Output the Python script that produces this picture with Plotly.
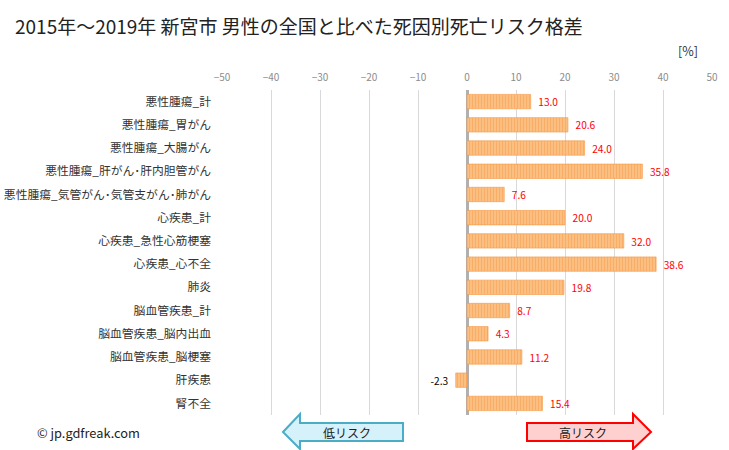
import plotly.graph_objects as go

categories = ["悪性腫瘍_計", "悪性腫瘍_胃がん", "悪性腫瘍_大腸がん", "悪性腫瘍_肝がん･肝内胆管がん",
              "悪性腫瘍_気管がん･気管支がん･肺がん", "心疾患_計", "心疾患_急性心筋梗塞", "心疾患_心不全",
              "肺炎", "脳血管疾患_計", "脳血管疾患_脳内出血", "脳血管疾患_脳梗塞", "肝疾患", "腎不全"]
values = [13.0, 20.6, 24.0, 35.8, 7.6, 20.0, 32.0, 38.6, 19.8, 8.7, 4.3, 11.2, -2.3, 15.4]
tick_vals = [-50, -40, -30, -20, -10, 0, 10, 20, 30, 40, 50]

FONT = "Noto Sans CJK JP, Meiryo, sans-serif"
text_colors = ["red" if v >= 0 else "black" for v in values]
NB = "\u00a0"
labels = [(NB * 2 + f"{v:.1f}") if v >= 0 else (f"{v:.1f}" + NB * 2) for v in values]

fig = go.Figure()
fig.add_trace(go.Bar(
    y=categories, x=values, orientation="h",
    width=0.62,
    marker=dict(color="#fcc28c",
                line=dict(color="#f7953f", width=0.6),
                pattern=dict(shape="|", fgcolor="#f7953f", bgcolor="#fdc58c", size=3, solidity=0.5)),
    text=labels,
    textposition="outside",
    textfont=dict(color=text_colors, size=12, family=FONT),
    cliponaxis=False,
    hoverinfo="skip",
))

L, R, T, B = 222, 712, 90, 415

fig.update_layout(
    width=729, height=450,
    margin=dict(l=L, r=729 - R, t=T, b=450 - B, autoexpand=False),
    paper_bgcolor="white", plot_bgcolor="white",
    showlegend=False,
    font=dict(family=FONT, color="#333333"),
    title=dict(text="2015年～2019年 新宮市 男性の全国と比べた死因別死亡リスク格差",
               x=15 / 729, xanchor="left", y=1 - 27 / 450, yanchor="middle",
               font=dict(size=19, color="#222222", family=FONT)),
    bargap=0.4,
)
fig.update_xaxes(range=[-50, 50], side="top", tickvals=tick_vals,
                 showgrid=True, gridcolor="#d9d9d9", gridwidth=1,
                 zeroline=True, zerolinecolor="#b0b0b0", zerolinewidth=3,
                 tickfont=dict(size=10, color="#8c8c8c"), showline=False, ticks="",
                 ticklabelstandoff=6, automargin=False)
fig.update_yaxes(autorange="reversed", tickfont=dict(size=11.8, color="#333333"),
                 showgrid=False, ticks="", ticklabelstandoff=10, automargin=False)

def ppx(x):
    return (x - L) / (R - L)
def ppy(y):
    return (B - y) / (B - T)
def path2(pts):
    return "M " + " L ".join(f"{ppx(a):.5f},{ppy(b):.5f}" for a, b in pts) + " Z"

left_arrow = [(283, 432), (300, 414), (300, 423), (403, 423), (403, 441), (300, 441), (300, 449)]
right_arrow = [(527, 423), (633, 423), (633, 414), (651, 432), (633, 449), (633, 441), (527, 441)]

fig.add_shape(type="path", xref="paper", yref="paper", path=path2(left_arrow),
              fillcolor="#d5f1fa", line=dict(color="#4bacc6", width=2))
fig.add_shape(type="path", xref="paper", yref="paper", path=path2(right_arrow),
              fillcolor="#ffd0d0", line=dict(color="#ff0000", width=2))

def note(x, y, text, size, xanchor="center", color="#222222"):
    fig.add_annotation(xref="paper", yref="paper", x=ppx(x), y=ppy(y), text=text,
                       showarrow=False, xanchor=xanchor, yanchor="middle",
                       font=dict(size=size, color=color, family=FONT))

note(347, 432, "低リスク", 12)
note(583, 432, "高リスク", 12)
note(700, 50, "[%]", 12.5, xanchor="right", color="#333333")
note(35, 432, "© jp.gdfreak.com", 12.8, xanchor="left")

fig.write_html("out.html", config={"displayModeBar": False},
               post_script="document.body.style.margin='0';document.body.style.overflow='hidden';")
